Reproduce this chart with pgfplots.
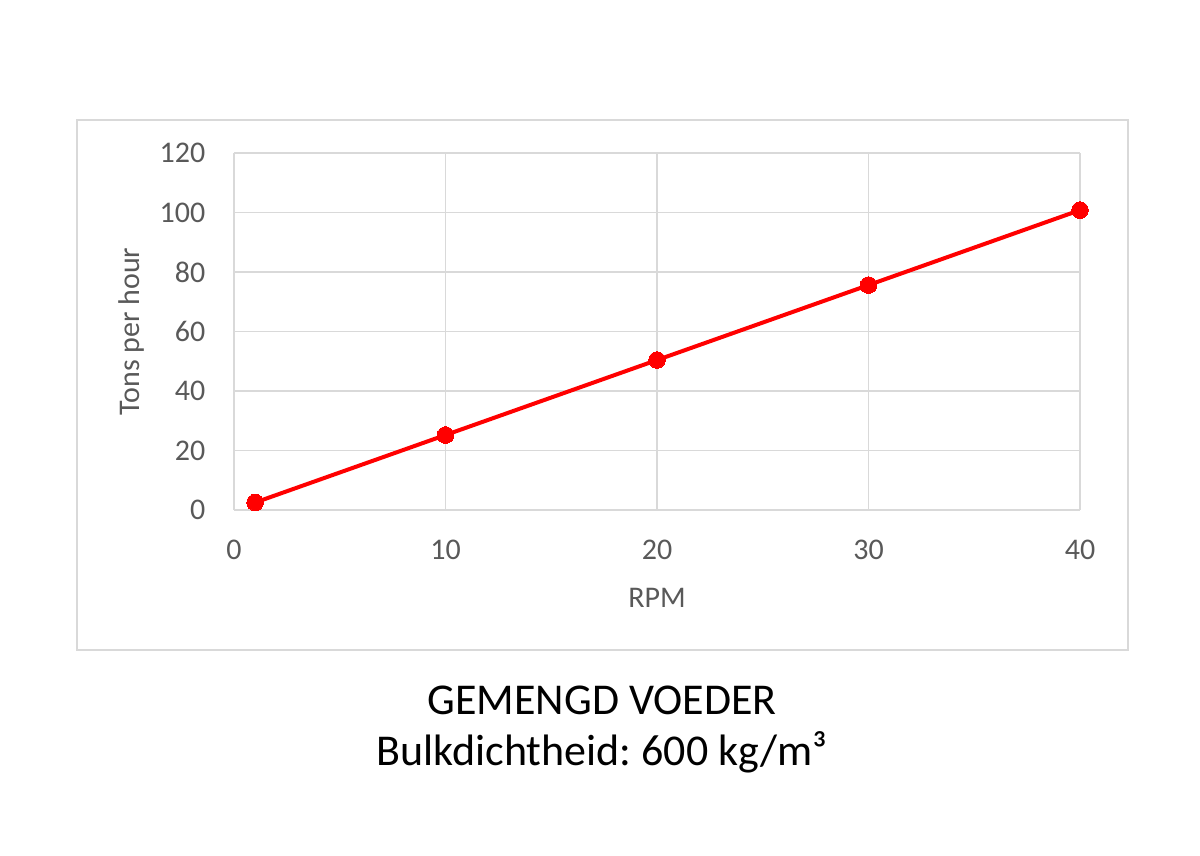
\documentclass[border=0pt]{standalone}
\usepackage{fontspec}
\setmainfont{Carlito}
\usepackage{pgfplots}
\pgfplotsset{compat=1.18}
\definecolor{txtgray}{HTML}{595959}
\definecolor{gridgray}{HTML}{D9D9D9}
\definecolor{lred}{HTML}{FF0000}
\frenchspacing
\begin{document}
\begin{tikzpicture}
\path[use as bounding box] (0pt,0pt) rectangle (720pt,513.6pt);
\draw[gridgray, line width=0.9pt] (46.2pt,123.6pt) rectangle (676.8pt,441.6pt);
\begin{axis}[
  at={(140.4pt,207.6pt)}, anchor=south west,
  scale only axis, width=507.6pt, height=214.2pt,
  xmin=0, xmax=40, ymin=0, ymax=120,
  xtick={0,10,20,30,40}, ytick={0,20,40,60,80,100,120},
  axis line style={draw=none},
  major tick length=0pt,
  grid=major,
  major grid style={gridgray, line width=0.9pt},
  /pgf/number format/assume math mode=true,
  tick label style={font=\fontsize{18}{21.6}\selectfont, text=txtgray},
  x tick label style={anchor=center, yshift=-24pt},
  y tick label style={anchor=east, inner sep=0pt, xshift=-17pt},
  label style={font=\fontsize{18}{21.6}\selectfont, text=txtgray},
  xlabel={RPM},
  ylabel={Tons per hour},
  x label style={at={(axis description cs:0.5,0)}, anchor=center, yshift=-52.8pt},
  y label style={at={(axis description cs:0,0.5)}, anchor=center, rotate=0, yshift=61.2pt},
  clip=false,
]
\addplot[lred, line width=2.4pt, mark=*, mark size=5pt, mark options={fill=lred, draw=lred, line width=0pt}]
  coordinates {(1,2.52) (10,25.2) (20,50.4) (30,75.6) (40,100.8)};
\end{axis}
\node[font=\fontsize{26.4}{32}\selectfont, text=black] at (361.2pt,93.6pt) {GEMENGD VOEDER};
\node[font=\fontsize{26.4}{32}\selectfont, text=black] at (361.2pt,62.4pt) {Bulkdichtheid: 600 kg/m³};
\end{tikzpicture}
\end{document}
